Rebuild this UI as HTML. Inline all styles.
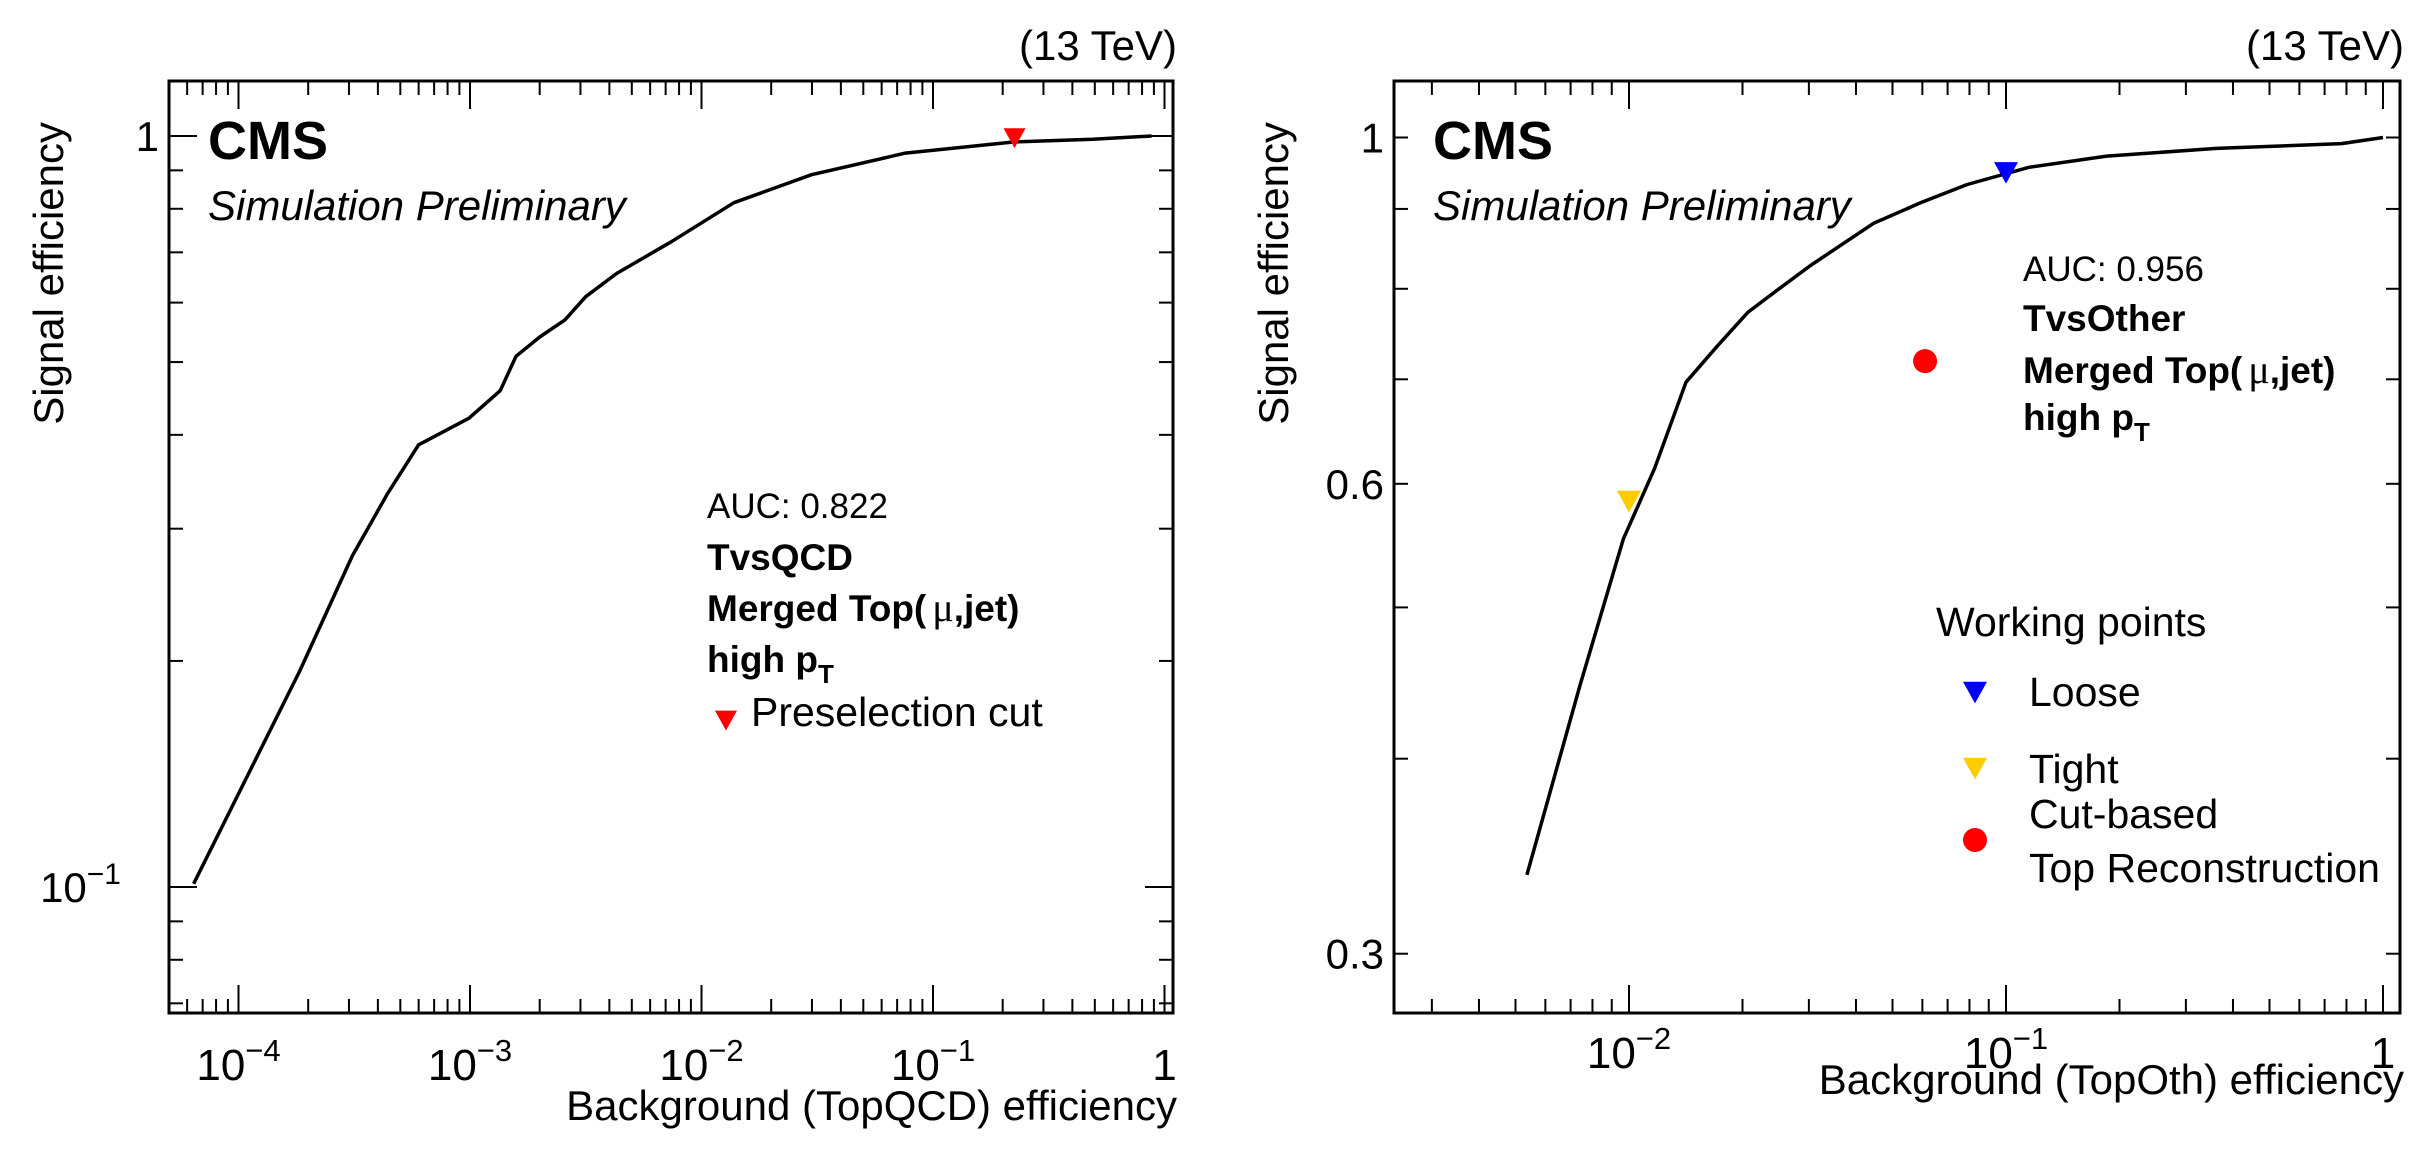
<!DOCTYPE html>
<html><head><meta charset="utf-8">
<style>
html,body{margin:0;padding:0;background:#fff;}
svg{display:block;font-family:"Liberation Sans",Arial,sans-serif;}
</style></head>
<body>
<svg id="chart" width="2435" height="1165" viewBox="0 0 2435 1165" xmlns="http://www.w3.org/2000/svg">
  <rect x="0" y="0" width="2435" height="1165" fill="#fff"/>
  <g id="left"></g>
  <g id="right"></g>
</svg>
<script>
// ---------- Left panel data ----------
const leftBkg = [6.4e-5, 1.84e-4, 3.1e-4, 4.4e-4, 6.0e-4, 9.9e-4, 1.35e-3, 1.58e-3, 2.0e-3, 2.57e-3, 3.16e-3, 4.3e-3, 7.4e-3, 1.38e-2, 2.99e-2, 7.6e-2, 0.225, 0.49, 0.88];
const leftSig = [0.101, 0.194, 0.276, 0.334, 0.388, 0.421, 0.458, 0.509, 0.54, 0.569, 0.611, 0.656, 0.723, 0.815, 0.888, 0.949, 0.982, 0.99, 1.0];
const leftPresel = [0.225, 0.995];
const leftXTicks = [1e-4, 1e-3, 1e-2, 1e-1, 1];
const leftXTickLabels = [["10","−4"],["10","−3"],["10","−2"],["10","−1"],["1",""]];
const leftYTicks = [1, 0.1];
const leftYTickLabels = [["1",""],["10","−1"]];

// ---------- Right panel data ----------
const rightBkg = [0.00536, 0.0074, 0.00966, 0.0117, 0.01416, 0.01714, 0.0207, 0.025, 0.0303, 0.0445, 0.0592, 0.0789, 0.115, 0.185, 0.362, 0.776, 1.0];
const rightSig = [0.337, 0.445, 0.553, 0.614, 0.697, 0.735, 0.773, 0.80, 0.828, 0.881, 0.908, 0.933, 0.957, 0.973, 0.984, 0.991, 1.0];
const wpLoose = [0.1, 0.95];
const wpTight = [0.01, 0.585];
const wpCutBased = [0.061, 0.719];
const rightXTicks = [1e-2, 1e-1, 1];
const rightXTickLabels = [["10","−2"],["10","−1"],["1",""]];
const rightYTicks = [1, 0.6, 0.3];
const rightYTickLabels = ["1", "0.6", "0.3"];
const rightYMinor = [0.9, 0.8, 0.7, 0.5, 0.4];

const NS = "http://www.w3.org/2000/svg";
function mk(tag, attrs, parent){ const e=document.createElementNS(NS,tag); for(const k in attrs) e.setAttribute(k,attrs[k]); parent.appendChild(e); return e; }
const L10 = Math.log10;

function panel(g, P){
  const fr = mk('rect',{x:P.x0,y:P.y0,width:P.x1-P.x0,height:P.y1-P.y0,fill:'none',stroke:'#000','stroke-width':3},g);
  
  
  for(let d=-5; d<=0; d++){
    for(let m=1;m<=9;m++){
      const v=m*Math.pow(10,d); const x=P.sx(v);
      if(x<P.x0+1||x>P.x1-1) continue;
      const len = m===1?28:14;
      const t1=mk('line',{x1:x,x2:x,y1:P.y1,y2:P.y1-len,stroke:'#000','stroke-width':2},g);
      
      
      const t2=mk('line',{x1:x,x2:x,y1:P.y0,y2:P.y0+len,stroke:'#000','stroke-width':2},g);
      
      
    }
  }
  P.xTicks.forEach((v,i)=>{
    const lab=P.xLabels[i];
    const t=mk('text',{x:P.sx(v),y:P.xLabY,'font-size':44,'text-anchor':'middle',fill:'#000'},g);
    
    
    t.textContent=lab[0];
    if(lab[1]){ const s=mk('tspan',{dy:-19,'font-size':31},t); s.textContent=lab[1]; }
  });
  P.yMajor.forEach(v=>{
    const y=P.sy(v);
    [[P.x0,P.x0+P.yMajLen],[P.x1,P.x1-P.yMajLen]].forEach(([a,b])=>{
      const l=mk('line',{x1:a,x2:b,y1:y,y2:y,stroke:'#000','stroke-width':2},g);
      
      
    });
  });
  P.yMinor.forEach(v=>{
    const y=P.sy(v); if(y<P.y0+1||y>P.y1-1) return;
    [[P.x0,P.x0+14],[P.x1,P.x1-14]].forEach(([a,b])=>{
      const l=mk('line',{x1:a,x2:b,y1:y,y2:y,stroke:'#000','stroke-width':2},g);
      
      
    });
  });
  P.yMajor.forEach((v,i)=>{
    const lab=P.yLabels[i];
    const t=mk('text',{x:P.x0-10,y:P.sy(v)+15,'font-size':42,'text-anchor':'end',fill:'#000'},g);
    
    
    if(Array.isArray(lab)){
      if(lab[1]){ t.setAttribute('x',P.x0-48); t.textContent=lab[0]; const s=mk('tspan',{dy:-18,'font-size':30,'text-anchor':'start'},t); s.textContent=lab[1]; }
      else t.textContent=lab[0];
    } else t.textContent=lab;
  });
  let d='';
  P.bx.forEach((v,i)=>{ d+=(i?'L':'M')+P.sx(v).toFixed(1)+','+P.sy(P.by[i]).toFixed(1); });
  const c=mk('path',{d:d,fill:'none',stroke:'#000','stroke-width':3.5,'stroke-linejoin':'round'},g);
  
  
  const e=mk('text',{x:P.x1+4,y:60,'font-size':42,'text-anchor':'end'},g);
    e.textContent='(13 TeV)';
  const cms=mk('text',{x:P.x0+39,y:159,'font-size':54,'font-weight':'bold'},g);
    cms.textContent='CMS';
  const sp=mk('text',{x:P.x0+39,y:220,'font-size':42,'font-style':'italic'},g);
    sp.textContent='Simulation Preliminary';
  const yt=mk('text',{x:0,y:0,'font-size':42,'text-anchor':'end',transform:`translate(${P.x0-106},122) rotate(-90)`},g);
    yt.textContent='Signal efficiency';
  const xt=mk('text',{x:P.x1+4,y:P.xTitleY,'font-size':42,'text-anchor':'end'},g);
    xt.textContent=P.xTitle;
}
function tri(g,x,y,col,s,name){
  const p=mk('polygon',{points:`${x-s},${y-s*0.85} ${x+s},${y-s*0.85} ${x},${y+s*0.95}`,fill:col},g);
  
  
  return p;
}
function circ(g,x,y,col,r,name){
  const p=mk('circle',{cx:x,cy:y,r:r,fill:col},g);
  
  
}
function txt(g,x,y,s,size,bold,name){
  const t=mk('text',{x:x,y:y,'font-size':size,'font-weight':bold?'bold':'normal'},g);
  
  
  t.textContent=s; return t;
}
function merged(g,x,y){
  const m=txt(g,x,y,'Merged Top(',37,true,'category-label');
  const mu=mk('tspan',{'font-weight':'normal','font-family':'"Liberation Serif",serif','font-size':40,dx:6},m); mu.textContent='μ';
  const j=mk('tspan',{},m); j.textContent=',jet)';
}
function minorsLog(lo,hi){ const a=[]; for(let d=-3;d<=0;d++) for(let m=2;m<=9;m++){const v=m*Math.pow(10,d); if(v>lo&&v<hi) a.push(v);} return a; }

const gl=document.getElementById('left');
const PL={x0:169,x1:1173,y0:81,y1:1013,
  sx:v=>1164.5+231.5*L10(v), sy:v=>136-751*L10(v),
  xTicks:leftXTicks,xLabels:leftXTickLabels,xLabY:1080,
  yMajor:leftYTicks,yLabels:leftYTickLabels,yMajLen:28,yMinor:minorsLog(0.06,1.2).filter(v=>Math.abs(v-0.1)>1e-9&&Math.abs(v-1)>1e-9),
  bx:leftBkg,by:leftSig,xTitle:'Background (TopQCD) efficiency',xTitleY:1120};
panel(gl,PL);
tri(gl,PL.sx(leftPresel[0]),PL.sy(leftPresel[1]),'#ff0000',11,'preselection-marker');
txt(gl,707,518,'AUC: 0.822',35,false,'auc-label');
txt(gl,707,570,'TvsQCD',37,true,'discriminator-label');
merged(gl,707,621);
const h1=txt(gl,707,672,'high p',37,true,'pt-label');
const s1=mk('tspan',{dy:11,'font-size':26},h1); s1.textContent='T';
tri(gl,726,720,'#ff0000',11,'legend-preselection-marker');
txt(gl,751,726,'Preselection cut',41,false,'legend-preselection-label');

const gr=document.getElementById('right');
const PR={x0:1394,x1:2400,y0:81,y1:1013,
  sx:v=>2383+377*L10(v), sy:v=>137.5-1561*L10(v),
  xTicks:rightXTicks,xLabels:rightXTickLabels,xLabY:1068,
  yMajor:rightYTicks,yLabels:rightYTickLabels,yMajLen:14,yMinor:rightYMinor,
  bx:rightBkg,by:rightSig,xTitle:'Background (TopOth) efficiency',xTitleY:1094};
panel(gr,PR);
tri(gr,PR.sx(wpLoose[0]),PR.sy(wpLoose[1]),'#0000ff',12,'loose-wp-marker');
tri(gr,PR.sx(wpTight[0]),PR.sy(wpTight[1]),'#ffcc00',12,'tight-wp-marker');
circ(gr,PR.sx(wpCutBased[0]),PR.sy(wpCutBased[1]),'#ff0000',12,'cut-based-marker');
txt(gr,2023,281,'AUC: 0.956',35,false,'auc-label');
txt(gr,2023,331,'TvsOther',37,true,'discriminator-label');
merged(gr,2023,383);
const h2=txt(gr,2023,430,'high p',37,true,'pt-label');
const s2=mk('tspan',{dy:11,'font-size':26},h2); s2.textContent='T';
txt(gr,1936,636,'Working points',41,false,'legend-title');
tri(gr,1975,692,'#0000ff',12,'legend-loose-marker');
txt(gr,2029,706,'Loose',41,false,'legend-loose-label');
tri(gr,1975,768,'#ffcc00',12,'legend-tight-marker');
txt(gr,2029,783,'Tight',41,false,'legend-tight-label');
circ(gr,1975,840,'#ff0000',12,'legend-cut-based-marker');
txt(gr,2029,828,'Cut-based',41,false,'legend-cut-based-label');
txt(gr,2029,882,'Top Reconstruction',41,false,'legend-cut-based-label-2');
</script>
</body></html>
